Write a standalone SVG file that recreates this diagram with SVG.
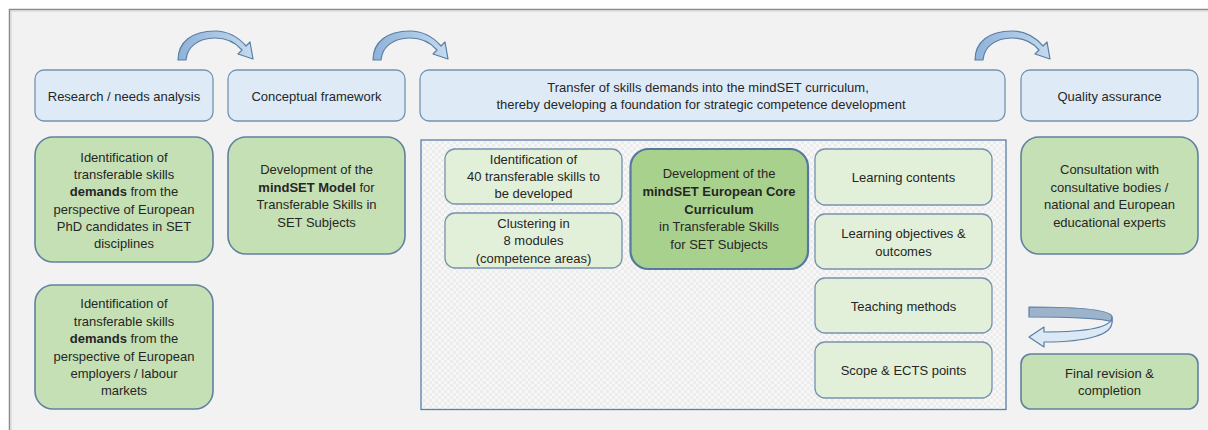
<svg xmlns="http://www.w3.org/2000/svg" width="1208" height="430" viewBox="0 0 1208 430">
<defs>
<style>
text{font-family:"Liberation Sans",Arial,sans-serif;font-size:13px;fill:#262626;text-anchor:middle}
.b{font-weight:bold}
.hdr{fill:#deebf7;stroke:#7591b3;stroke-width:1.3}
.grn{fill:#c5e0b4;stroke:#61819f;stroke-width:1.6}
.lgr{fill:#e2f0d9;stroke:#7592ad;stroke-width:1.3}
.core{fill:#a9d18e;stroke:#55799f;stroke-width:2.2}
.arr{fill:url(#ag);stroke:#5a7ea6;stroke-width:1.2;stroke-linejoin:round}
</style>
<linearGradient id="ag" x1="0" y1="0" x2="1" y2="0">
<stop offset="0" stop-color="#8fb2d8"/>
<stop offset="1" stop-color="#c4daef"/>
</linearGradient>
<pattern id="chk" width="6" height="6" patternUnits="userSpaceOnUse">
<rect width="6" height="6" fill="#f7f7f7"/>
<rect width="3" height="3" fill="#ececec"/>
<rect x="3" y="3" width="3" height="3" fill="#ececec"/>
</pattern>
<path id="carr" d="M0,60 C0,42 14,31 37,31 C50,31 61,38 68,46 L72,42 L75,59 L60,54 L64,50 C58,43 49,38 37,38 C20,38 9,47 8,60 Z"/>
</defs>

<rect x="0" y="0" width="1208" height="430" fill="#ffffff"/>
<rect x="9" y="9" width="1199" height="421" fill="#f2f2f2"/>
<line x1="9" y1="9.5" x2="1208" y2="9.5" stroke="#8a8a8a" stroke-width="1.5"/>
<line x1="9.5" y1="9" x2="9.5" y2="430" stroke="#8a8a8a" stroke-width="1.5"/>
<line x1="11" y1="11.5" x2="1208" y2="11.5" stroke="#d6e4f2" stroke-width="1"/>
<line x1="11.5" y1="11" x2="11.5" y2="430" stroke="#d6e4f2" stroke-width="1"/>

<g id="connectors">
<use href="#carr" class="arr" x="178" y="0"/>
<use href="#carr" class="arr" x="373" y="0"/>
<use href="#carr" class="arr" x="975" y="0"/>
<g id="uturn">
<path d="M1029,307 C1070,307 1112,309 1112,317 L1112,322 C1105,319 1075,317 1029,317 Z" fill="#9db2cb" stroke="#5a7ea6" stroke-width="1.2" stroke-linejoin="round"/>
<path d="M1112,317 C1112,328 1085,332 1044,332 L1044,327 L1029,337 L1044,347 L1044,342 C1090,342 1112,334 1112,322 Z" fill="#dbe8f5" stroke="#5a7ea6" stroke-width="1.2" stroke-linejoin="round"/>
</g>
</g>

<g id="container">
<rect x="421" y="140" width="585" height="269.5" fill="url(#chk)" stroke="#5b7fa9" stroke-width="1.3"/>
</g>

<g id="h1"><rect class="hdr" x="35" y="70" width="178" height="51" rx="9"/><text x="124" y="101">Research / needs analysis</text></g>
<g id="h2"><rect class="hdr" x="228" y="70" width="177" height="51" rx="9"/><text x="316.5" y="101">Conceptual framework</text></g>
<g id="h3"><rect class="hdr" x="420" y="70" width="585" height="51" rx="9"/><text x="708" y="92">Transfer of skills demands into the mindSET curriculum,</text><text x="701" y="109">thereby developing a foundation for strategic competence development</text></g>
<g id="h4"><rect class="hdr" x="1021" y="70" width="177" height="51" rx="9"/><text x="1109.5" y="101">Quality assurance</text></g>

<g id="g1"><rect class="grn" x="35" y="137" width="178" height="125" rx="18"/>
<text x="124" y="162">Identification of</text>
<text x="124" y="179">transferable skills</text>
<text x="124" y="196"><tspan class="b">demands</tspan> from the</text>
<text x="124" y="214">perspective of European</text>
<text x="124" y="231">PhD candidates in SET</text>
<text x="124" y="248">disciplines</text></g>

<g id="g2"><rect class="grn" x="228" y="137" width="177" height="117" rx="18"/>
<text x="316.5" y="174">Development of the</text>
<text x="316.5" y="192"><tspan class="b">mindSET Model</tspan> for</text>
<text x="316.5" y="209">Transferable Skills in</text>
<text x="316.5" y="227">SET Subjects</text></g>

<g id="g3"><rect class="grn" x="35" y="285" width="178" height="124" rx="18"/>
<text x="124" y="308">Identification of</text>
<text x="124" y="326">transferable skills</text>
<text x="124" y="343"><tspan class="b">demands</tspan> from the</text>
<text x="124" y="361">perspective of European</text>
<text x="124" y="378">employers / labour</text>
<text x="124" y="395">markets</text></g>

<g id="i1"><rect class="lgr" x="445" y="149" width="177" height="55" rx="10"/>
<text x="533.5" y="164">Identification of</text>
<text x="533.5" y="181">40 transferable skills to</text>
<text x="533.5" y="198">be developed</text></g>

<g id="i2"><rect class="lgr" x="445" y="213" width="177" height="55" rx="10"/>
<text x="533.5" y="228">Clustering in</text>
<text x="533.5" y="245">8 modules</text>
<text x="533.5" y="263">(competence areas)</text></g>

<g id="core"><rect class="core" x="630.5" y="149" width="177.5" height="120" rx="18"/>
<text x="719" y="178">Development of the</text>
<text x="719" y="196" class="b">mindSET European Core</text>
<text x="719" y="214" class="b">Curriculum</text>
<text x="719" y="231">in Transferable Skills</text>
<text x="719" y="249">for SET Subjects</text></g>

<g id="r1"><rect class="lgr" x="815" y="149" width="177" height="56" rx="10"/><text x="903.5" y="182">Learning contents</text></g>
<g id="r2"><rect class="lgr" x="815" y="214" width="177" height="55" rx="10"/><text x="903.5" y="238">Learning objectives &amp;</text><text x="903.5" y="256">outcomes</text></g>
<g id="r3"><rect class="lgr" x="815" y="278" width="177" height="55" rx="10"/><text x="903.5" y="311">Teaching methods</text></g>
<g id="r4"><rect class="lgr" x="815" y="342" width="177" height="56" rx="10"/><text x="903.5" y="375">Scope &amp; ECTS points</text></g>

<g id="q1"><rect class="grn" x="1021" y="137" width="177" height="117" rx="18"/>
<text x="1109.5" y="174">Consultation with</text>
<text x="1109.5" y="192">consultative bodies /</text>
<text x="1109.5" y="209">national and European</text>
<text x="1109.5" y="227">educational experts</text></g>

<g id="q2"><rect class="grn" x="1021" y="354" width="177" height="55" rx="10"/>
<text x="1109.5" y="378">Final revision &amp;</text>
<text x="1109.5" y="395">completion</text></g>
</svg>
